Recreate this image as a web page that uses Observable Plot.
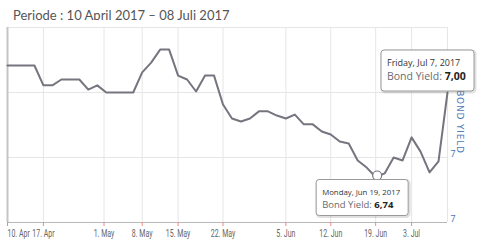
<!DOCTYPE html>
<html>
<head>
<meta charset="utf-8">
<script src="https://cdn.jsdelivr.net/npm/d3@7"></script>
<script src="https://cdn.jsdelivr.net/npm/@observablehq/plot@0.6"></script>
<style>
  html, body { margin: 0; padding: 0; background: #fff; }
  #title { height: 20px; font-family: Lato, "Open Sans", sans-serif; font-size: 13px; color: #555;
           padding-left: 13px; line-height: 20px; position: relative; top: 5px; white-space: nowrap; }
  #chart { position: relative; }
</style>
</head>
<body>
<div id="title"></div>
<div id="chart"></div>
<script>
const titleText = "Periode : 10 April 2017 – 08 Juli 2017";
const seriesName = "Bond Yield";
const axisTitle = "BOND YIELD";

const dates = [
  "2017-04-10","2017-04-11","2017-04-12","2017-04-13","2017-04-17","2017-04-18","2017-04-20","2017-04-21",
  "2017-04-25","2017-04-27","2017-04-28","2017-05-02","2017-05-03","2017-05-04","2017-05-05","2017-05-08",
  "2017-05-09","2017-05-10","2017-05-12","2017-05-15","2017-05-16","2017-05-17","2017-05-18","2017-05-19",
  "2017-05-22","2017-05-23","2017-05-24","2017-05-26","2017-05-29","2017-05-30","2017-06-02","2017-06-05",
  "2017-06-06","2017-06-07","2017-06-08","2017-06-09","2017-06-12","2017-06-13","2017-06-14","2017-06-15",
  "2017-06-16","2017-06-19","2017-06-20","2017-06-21","2017-06-22","2017-07-03","2017-07-04","2017-07-05",
  "2017-07-06","2017-07-07"
];
const yields = [
  7.083,7.083,7.083,7.083,7.022,7.022,7.040,7.040,
  7.040,7.009,7.022,7.000,7.000,7.000,7.000,7.062,
  7.092,7.132,7.132,7.052,7.040,7.003,7.052,7.052,
  6.963,6.920,6.911,6.920,6.942,6.942,6.929,6.920,
  6.932,6.902,6.902,6.880,6.871,6.849,6.843,6.791,
  6.769,6.740,6.751,6.800,6.791,6.862,6.818,6.754,
  6.788,7.000
];
const tickDates = ["2017-04-10","2017-04-17","2017-05-01","2017-05-08","2017-05-15","2017-05-22","2017-06-05","2017-06-12","2017-06-19","2017-07-03"];
const tickLabels = ["10. Apr","17. Apr","1. May","8. May","15. May","22. May","5. Jun","12. Jun","19. Jun","3. Jul"];
const yTicks = [6.6, 6.8, 7.0, 7.2];
const yLabelTicks = [6.6, 6.8];
const yDomain = [6.6, 7.2];
const tooltipDates = ["2017-06-19", "2017-07-07"];

const parse = d3.utcParse("%Y-%m-%d");
const dateObjs = dates.map(parse);
const data = dates.map((d, i) => ({i, date: dateObjs[i], value: yields[i]}));

// ordinal (trading-day) position of a calendar date
function ordinalPos(s) {
  const t = +parse(s);
  for (let i = 0; i < dateObjs.length - 1; i++) {
    const a = +dateObjs[i], b = +dateObjs[i + 1];
    if (t >= a && t < b) return i + (t - a) / (b - a);
  }
  return dateObjs.length - 1;
}
const tickPos = tickDates.map(ordinalPos);
const lastIdx = dates.length - 1;
const labelOf = new Map(tickPos.map((p, k) => [p, tickLabels[k]]));

const xFont = 'Roboto, sans-serif';

const chart = Plot.plot({
  width: 482,
  height: 231,
  marginTop: 7,
  marginBottom: 29,
  marginLeft: 7,
  marginRight: 35,
  style: {fontFamily: xFont, fontSize: "9px", background: "#fff"},
  x: {domain: [0, lastIdx], axis: null},
  y: {domain: yDomain, axis: null},
  marks: [
    Plot.ruleY(yTicks, {stroke: "#e6e6e6", strokeWidth: 1}),
    Plot.ruleX(tickPos.concat([lastIdx]), {stroke: "#e6e6e6", strokeWidth: 1}),
    Plot.ruleX([0], {stroke: "#c4c4c4", strokeWidth: 2}),
    Plot.ruleY([yDomain[0]], {stroke: "#b8b8b8", strokeWidth: 1.2}),
    Plot.axisX(tickPos.slice(0, 1), {tickSize: 4, stroke: "#e88", tickPadding: 3, fill: "#666", label: null,
      textAnchor: "start", tickFormat: p => labelOf.get(p), fontSize: 10}),
    Plot.axisX(tickPos.slice(1), {tickSize: 4, stroke: "#e88", tickPadding: 3, fill: "#666", label: null,
      tickFormat: p => labelOf.get(p), fontSize: 10}),
    Plot.axisY(yLabelTicks, {anchor: "right", tickSize: 0, tickPadding: 3, fill: "#4a78b5", dy: -3,
      tickFormat: d => d3.format(".0f")(d), label: null, fontSize: 9}),
    Plot.text([axisTitle], {frameAnchor: "right", textAnchor: "middle", dx: 12, dy: -3, rotate: 90, fill: "#4a78b5",
      fontSize: 9, fontFamily: '"DejaVu Sans", sans-serif'}),
    Plot.line(data, {x: "i", y: "value", stroke: "#75757f", strokeWidth: 2})
  ]
});

document.getElementById("title").textContent = titleText;
document.getElementById("chart").appendChild(chart);

const sx = chart.scale("x"), sy = chart.scale("y");
const svg = d3.select(chart);
svg.selectAll("text").filter(function() { return this.textContent === axisTitle; })
   .attr("letter-spacing", "0.8px");
// condensed look for the x tick labels
svg.selectAll("text").filter(function() { return tickLabels.includes(this.textContent); })
   .each(function() {
     const tr = this.getAttribute("transform") || "";
     this.setAttribute("transform", tr + " scale(0.7,1)");
   });

const fmtDate = d3.utcFormat("%A, %b %-d, %Y");
const fmtVal = v => v.toFixed(2).replace(".", ",");

const tipSpecs = [
  {date: tooltipDates[0], ox: -59, oy: 3, w: 92, h: 36, f1: 7.8, f2: 9.5, b1: 15, b2: 28, marker: true},
  {date: tooltipDates[1], ox: -66, oy: -42, w: 93, h: 41, f1: 9, f2: 10.5, b1: 16, b2: 30, marker: false}
];
const tipFont = '"Open Sans", "Noto Sans", sans-serif';
for (const t of tipSpecs) {
  const k = dates.indexOf(t.date);
  const d = data[k];
  const px = sx.apply(d.i), py = sy.apply(d.value);
  const g = svg.append("g").attr("text-anchor", "start");
  if (t.marker) {
    g.append("circle").attr("cx", px + 2).attr("cy", py - 1).attr("r", 4.5)
      .attr("fill", "#fff").attr("stroke", "#75757f").attr("stroke-width", 1.2);
  }
  const bx = px + t.ox, by = py + t.oy;
  g.append("rect").attr("x", bx + 1).attr("y", by + 1).attr("width", t.w).attr("height", t.h).attr("rx", 3)
    .attr("fill", "none").attr("stroke", "rgba(0,0,0,0.12)").attr("stroke-width", 3);
  g.append("rect").attr("x", bx).attr("y", by).attr("width", t.w).attr("height", t.h).attr("rx", 3)
    .attr("fill", "rgba(255,255,255,0.97)").attr("stroke", "#9a9a9a").attr("stroke-width", 1);
  g.append("text").attr("x", bx + 6).attr("y", by + t.b1).attr("font-family", tipFont)
    .attr("text-anchor", "start").attr("font-size", t.f1).attr("fill", "#333").text(fmtDate(d.date));
  const l2 = g.append("text").attr("x", bx + 6).attr("y", by + t.b2).attr("font-family", tipFont)
    .attr("text-anchor", "start").attr("font-size", t.f2);
  l2.append("tspan").attr("fill", "#6a6a70").text(seriesName + ": ");
  l2.append("tspan").attr("fill", "#222").attr("font-weight", "bold").text(fmtVal(d.value));
}
</script>
</body>
</html>
